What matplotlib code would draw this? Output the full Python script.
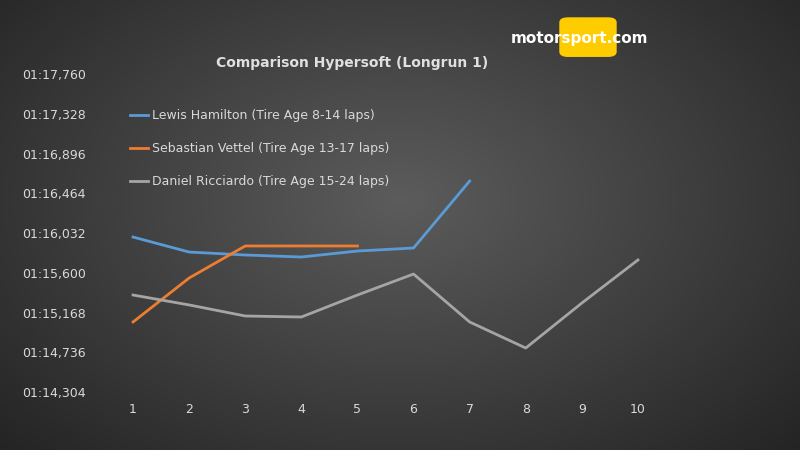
import numpy as np
import matplotlib.pyplot as plt
from matplotlib.patches import FancyBboxPatch

laps = list(range(1, 11))
hamilton = [75.988, 75.825, 75.793, 75.771, 75.836, 75.869, 76.597]
vettel = [75.065, 75.543, 75.891, 75.891, 75.891]
ricciardo = [75.358, 75.250, 75.130, 75.119, 75.358, 75.586, 75.065, 74.782, 75.271, 75.739]
yticks = [74.304, 74.736, 75.168, 75.600, 76.032, 76.464, 76.896, 77.328, 77.760]


def fmt(v):
    m = int(v // 60)
    ms = int(round((v - m * 60) * 1000))
    return f"{m:02d}:{ms // 1000:02d},{ms % 1000:03d}"


labels = [fmt(v) for v in yticks]

fig = plt.figure(figsize=(8, 4.5), dpi=100)

# radial dark background
bg = fig.add_axes([0, 0, 1, 1])
yy, xx = np.mgrid[0:450, 0:800]
r = np.sqrt(((xx - 400) / 560) ** 2 + ((yy - 200) / 360) ** 2)
shade = np.clip(0.36 - 0.22 * r, 0.14, 0.36)
bg.imshow(np.dstack([shade] * 3), aspect="auto", extent=[0, 1, 0, 1])
bg.axis("off")

ax = fig.add_axes([105 / 800, 1 - 392 / 450, (666 - 105) / 800, (392 - 74) / 450])
ax.set_facecolor("none")
ax.plot(laps[:7], hamilton, color="#5b9bd5", lw=2, label="Lewis Hamilton (Tire Age 8-14 laps)")
ax.plot(laps[:5], vettel, color="#ed7d31", lw=2, label="Sebastian Vettel (Tire Age 13-17 laps)")
ax.plot(laps, ricciardo, color="#a5a5a5", lw=2, label="Daniel Ricciardo (Tire Age 15-24 laps)")
ax.set_xlim(0.5, 10.5)
ax.set_ylim(74.304, 77.760)
ax.set_xticks(laps)
ax.set_yticks(yticks)
ax.set_yticklabels(labels)
ax.tick_params(colors="#d9d9d9", labelsize=9, length=0)
ax.tick_params(axis="x", pad=8)
ax.tick_params(axis="y", pad=14)
for s in ax.spines.values():
    s.set_visible(False)
ax.legend(loc="upper left", bbox_to_anchor=(0.035, 0.905), frameon=False, labelcolor="#d9d9d9",
          fontsize=9, handlelength=1.5, labelspacing=1.6, handletextpad=0.3, borderaxespad=0)

fig.text(0.44, 1 - 63 / 450, "Comparison Hypersoft (Longrun 1)", color="#e0e0e0",
         fontsize=10, fontweight="bold", ha="center", va="center")

# logo
bg.add_patch(FancyBboxPatch((0.71, 0.885), 0.05, 0.065, boxstyle="round,pad=0.01",
                            transform=fig.transFigure, color="#ffcc00", zorder=2))
fig.text(0.638, 1 - 38 / 450, "motorsport.com", color="white", fontsize=11,
         fontweight="bold", va="center", zorder=3)

fig.savefig("out.png", dpi=100)
